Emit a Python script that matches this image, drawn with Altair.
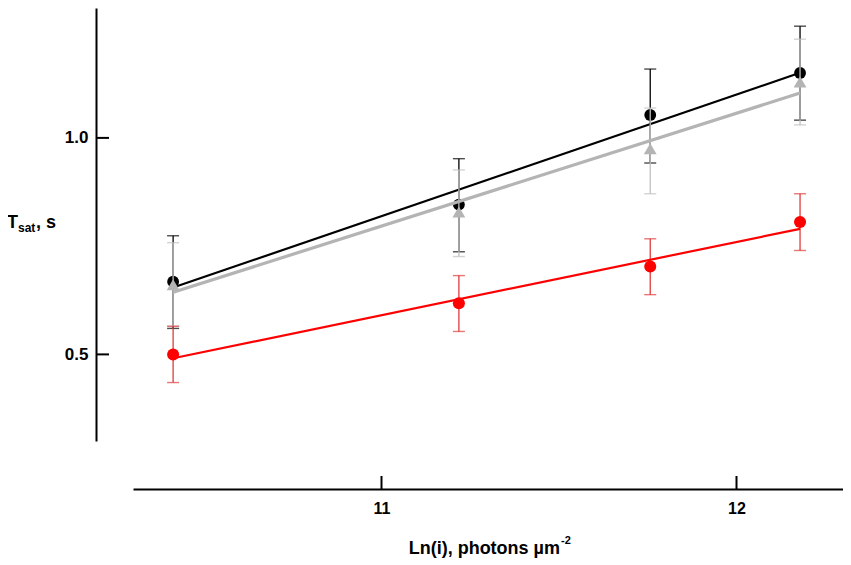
import altair as alt
import pandas as pd

# ---- data ----
x_vals = [10.413, 11.218, 11.757, 12.179]

black_y = [0.668, 0.846, 1.053, 1.150]
black_lo = [0.560, 0.737, 0.942, 1.041]
black_hi = [0.774, 0.952, 1.159, 1.258]

gray_y = [0.661, 0.829, 0.975, 1.129]
gray_lo = [0.565, 0.726, 0.871, 1.030]
gray_hi = [0.758, 0.926, 1.069, 1.228]

red_y = [0.500, 0.618, 0.703, 0.806]
red_lo = [0.435, 0.553, 0.638, 0.740]
red_hi = [0.565, 0.682, 0.767, 0.871]

x_ticks = [11, 12]
y_ticks = [0.5, 1.0]

W, H = 710, 433
FONT = "Liberation Sans"

rows = []
for s, ys, los, his in [("black", black_y, black_lo, black_hi),
                        ("gray", gray_y, gray_lo, gray_hi),
                        ("red", red_y, red_lo, red_hi)]:
    for x, y, lo, hi in zip(x_vals, ys, los, his):
        rows.append({"s": s, "x": x, "y": y, "lo": lo, "hi": hi})
df = pd.DataFrame(rows)

xscale = alt.Scale(domain=[10.3, 12.3], nice=False, zero=False)
yscale = alt.Scale(domain=[0.3, 1.3], nice=False, zero=False)

xaxis = alt.Axis(values=x_ticks, format="d", ticks=False, grid=False, title=None,
                 domainColor="black", domainWidth=2, offset=48,
                 labelFont=FONT, labelFontWeight="bold", labelFontSize=16,
                 labelColor="black", labelPadding=11)
yaxis = alt.Axis(values=y_ticks, format=".1f", ticks=False, grid=False, title=None,
                 domainColor="black", domainWidth=2, offset=37,
                 labelFont=FONT, labelFontWeight="bold", labelFontSize=17,
                 labelColor="black", labelPadding=8)


def X(f="x"):
    return alt.X(f"{f}:Q", scale=xscale, axis=xaxis)


def Y(f="y"):
    return alt.Y(f"{f}:Q", scale=yscale, axis=yaxis)


base = alt.Chart(df)


def series(name, color, barcolor, line_w, shape, size):
    b = base.transform_filter(alt.datum.s == name)
    stem = b.mark_rule(color=barcolor, strokeWidth=1.3).encode(x=X(), y=Y("lo"), y2="hi:Q")
    cap_lo = b.mark_tick(color=barcolor, orient="horizontal", size=12, thickness=1.4).encode(x=X(), y=Y("lo"))
    cap_hi = b.mark_tick(color=barcolor, orient="horizontal", size=12, thickness=1.4).encode(x=X(), y=Y("hi"))
    line = b.transform_regression("x", "y").mark_line(color=color, strokeWidth=line_w).encode(x=X(), y=Y())
    pts = b.mark_point(shape=shape, filled=True, opacity=1, color=color, size=size).encode(x=X(), y=Y())
    return [stem, cap_lo, cap_hi, line, pts]


layers = []
layers += series("black", "#000000", "#000000", 2.2, "circle", 140)
layers += series("gray", "#b4b4b4", "#c0c0c0", 3.2, "triangle-up", 165)
layers += series("red", "#ff0000", "#e03a3a", 2.2, "circle", 145)

# inward-pointing axis ticks
ytick_df = pd.DataFrame({"v": y_ticks})
xtick_df = pd.DataFrame({"v": x_ticks})
layers.append(alt.Chart(ytick_df).mark_rule(color="black", strokeWidth=2).encode(
    y=alt.Y("v:Q", scale=yscale, axis=yaxis), x=alt.value(-37), x2=alt.value(-24)))
layers.append(alt.Chart(xtick_df).mark_rule(color="black", strokeWidth=2).encode(
    x=alt.X("v:Q", scale=xscale, axis=xaxis), y=alt.value(H + 48), y2=alt.value(H + 35)))


# axis titles (with sub/superscripts)
def txt(t, x, y, size, align="left"):
    return alt.Chart(pd.DataFrame({"t": [t]})).mark_text(
        font=FONT, fontWeight="bold", fontSize=size, color="black",
        align=align, baseline="alphabetic").encode(
        text="t:N", x=alt.value(x), y=alt.value(y))


layers.append(txt("T", -126, 220, 18))
layers.append(txt("sat", -115, 224, 12))
layers.append(txt(", s", -97, 220, 18))
layers.append(txt("Ln(i), photons µm", 427, 546, 18, align="right"))
layers.append(txt("-2", 428, 536, 11))

chart = alt.layer(*layers).properties(
    width=W, height=H,
    background="white",
    autosize=alt.AutoSizeParams(type="none"),
    padding={"left": 125, "top": 0, "right": 0, "bottom": 119},
).configure_view(stroke=None)

chart.save("out.html", embed_options={"renderer": "svg", "actions": False})
